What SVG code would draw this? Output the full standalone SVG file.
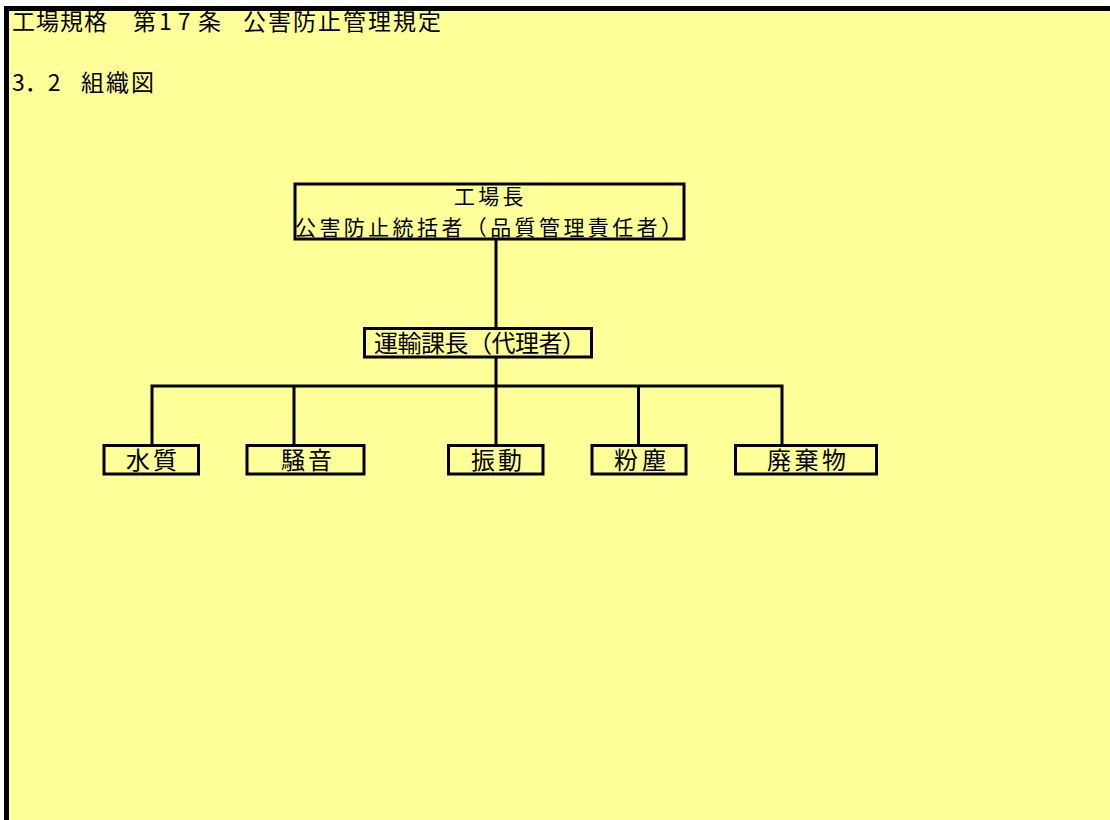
<svg xmlns="http://www.w3.org/2000/svg" width="1110" height="820" viewBox="0 0 1110 820">
<style>
.t{font-family:"Noto Sans CJK JP","Noto Sans CJK SC",sans-serif;font-size:24px;fill:#000;}
.h{font-size:23px;}
.s{font-size:21px;}
.box{fill:#FFFF99;stroke:#000;stroke-width:3;}
.ln{fill:none;stroke:#000;stroke-width:3;stroke-linecap:square;}
</style>
<rect x="0" y="0" width="1110" height="820" fill="#FFFFFF"/>
<rect x="4" y="6" width="1106" height="814" fill="#FFFF99"/>
<rect x="4" y="6" width="1106" height="5" fill="#000"/>
<rect x="4" y="6" width="5" height="814" fill="#000"/>
<g id="header">
<text class="t h" y="30"><tspan x="12" letter-spacing="1">工場規格 </tspan><tspan x="133">第</tspan><tspan x="159" letter-spacing="6">17</tspan><tspan x="198">条 </tspan><tspan x="243" letter-spacing="2">公害防止管理規定</tspan></text>
<text class="t h" y="91"><tspan x="12">3．2 </tspan><tspan x="81" letter-spacing="2">組織図</tspan></text>
</g>
<g id="connectors">
<path class="ln" d="M496 240 V328 M496 357 V386 M152 445 V386 H782 V445 M294 386 V445 M496 386 V445 M638.5 386 V445"/>
</g>
<g id="n-factory">
<rect class="box" x="295" y="184" width="389" height="55"/>
<text class="t s"><tspan x="454" y="204" letter-spacing="3.3">工場長</tspan><tspan x="295" y="235" letter-spacing="3.4">公害防止統括者（品質管理責任者）</tspan></text>
</g>
<g id="n-transport">
<rect class="box" x="364.5" y="328.5" width="227" height="28.5"/>
<text class="t" x="374" y="352" textLength="212" lengthAdjust="spacing">運輸課長（代理者）</text>
</g>
<g id="n-water">
<rect class="box" x="104" y="445.5" width="94.5" height="28.5"/>
<text class="t" x="126" y="469" textLength="51" lengthAdjust="spacing">水質</text>
</g>
<g id="n-noise">
<rect class="box" x="247" y="445.5" width="117" height="28.5"/>
<text class="t" x="281" y="469" textLength="51" lengthAdjust="spacing">騒音</text>
</g>
<g id="n-vibration">
<rect class="box" x="448.5" y="445.5" width="94.5" height="28.5"/>
<text class="t" x="471" y="469" textLength="51" lengthAdjust="spacing">振動</text>
</g>
<g id="n-dust">
<rect class="box" x="592" y="445.5" width="94" height="28.5"/>
<text class="t" x="614" y="469" textLength="52" lengthAdjust="spacing">粉塵</text>
</g>
<g id="n-waste">
<rect class="box" x="735.5" y="445.5" width="141" height="28.5"/>
<text class="t" x="767" y="469" textLength="79" lengthAdjust="spacing">廃棄物</text>
</g>
</svg>
